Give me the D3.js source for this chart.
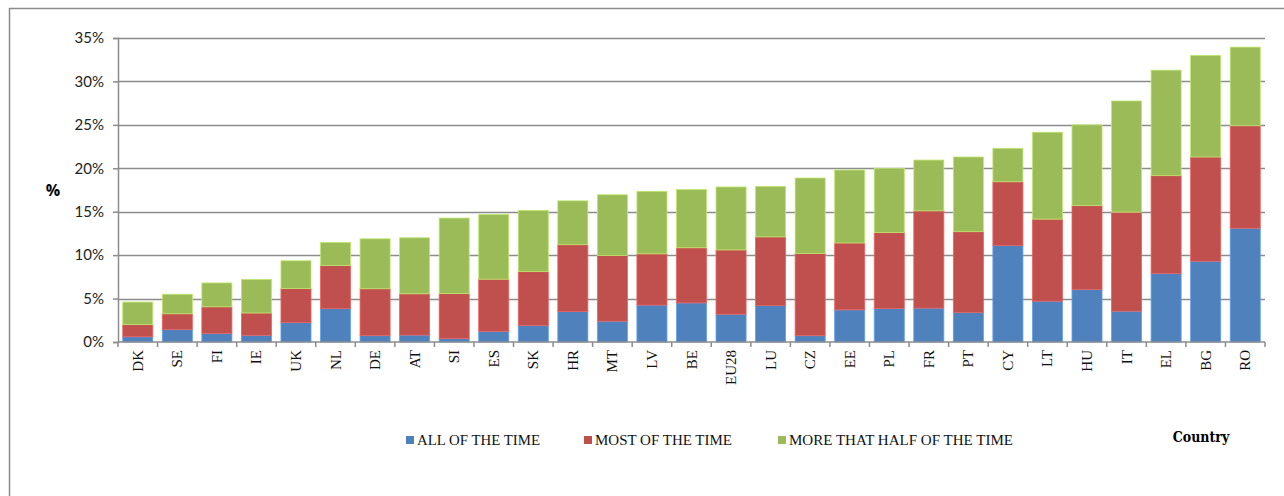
<!DOCTYPE html>
<html>
<head>
<meta charset="utf-8">
<script src="https://cdn.jsdelivr.net/npm/d3@7"></script>
<style>
  body { margin: 0; background: #fff; }
  svg { display: block; }
</style>
</head>
<body>
<div id="chart"></div>
<script>
// countries, sorted by total
const countries = ["DK","SE","FI","IE","UK","NL","DE","AT","SI","ES","SK","HR","MT","LV","BE","EU28","LU","CZ","EE","PL","FR","PT","CY","LT","HU","IT","EL","BG","RO"];

// percentages
const allTime  = [0.6, 1.45, 1.0, 0.77, 2.25, 3.85, 0.73, 0.8, 0.4, 1.23, 1.9, 3.5, 2.4, 4.25, 4.5, 3.2, 4.2, 0.73, 3.7, 3.85, 3.9, 3.4, 11.1, 4.7, 6.05, 3.55, 7.9, 9.3, 13.1];
const mostTime = [1.4, 1.8, 3.05, 2.57, 3.9, 4.95, 5.4, 4.75, 5.17, 6.0, 6.2, 7.7, 7.55, 5.9, 6.35, 7.4, 7.9, 9.45, 7.7, 8.75, 11.2, 9.3, 7.35, 9.45, 9.65, 11.4, 11.25, 12.0, 11.8];
const halfTime = [2.6, 2.25, 2.75, 3.87, 3.2, 2.65, 5.75, 6.45, 8.7, 7.45, 7.05, 5.05, 7.0, 7.2, 6.7, 7.25, 5.8, 8.7, 8.4, 7.4, 5.85, 8.6, 3.85, 10.0, 9.3, 12.8, 12.15, 11.7, 9.05];

const seriesNames = ["ALL OF THE TIME", "MOST OF THE TIME", "MORE THAT HALF OF THE TIME"];
const seriesColors = ["#4F81BD", "#C0504D", "#9BBB59"];
const yTicks = [0, 5, 10, 15, 20, 25, 30, 35];

const width = 1284, height = 496;
const margin = { top: 38, right: 19, bottom: 154, left: 118 };

const svg = d3.select("#chart").append("svg")
  .attr("width", width)
  .attr("height", height);

// outer frame (only top and left edges show)
svg.append("path")
  .attr("d", "M9.5,496 V8.5 H1284")
  .attr("fill", "none")
  .attr("stroke", "#8c8c8c")
  .attr("stroke-width", 1.5);

const rows = countries.map((c, i) => ({
  country: c,
  s0: allTime[i],
  s1: mostTime[i],
  s2: halfTime[i]
}));

const stack = d3.stack().keys(["s0", "s1", "s2"]);
const layers = stack(rows);

const x = d3.scaleBand()
  .domain(countries)
  .range([margin.left, width - margin.right])
  .paddingInner(0.24)
  .paddingOuter(0.12);

const y = d3.scaleLinear()
  .domain([0, 35])
  .range([height - margin.bottom, margin.top]);

// gridlines
svg.append("g")
  .selectAll("line")
  .data(yTicks.filter(d => d > 0))
  .enter().append("line")
  .attr("x1", margin.left)
  .attr("x2", width - margin.right)
  .attr("y1", d => Math.round(y(d)) + 0.5)
  .attr("y2", d => Math.round(y(d)) + 0.5)
  .attr("stroke", "#8c8c8c")
  .attr("stroke-width", 1.5);

// bars
const layer = svg.append("g")
  .selectAll("g")
  .data(layers)
  .enter().append("g")
  .attr("fill", (d, i) => seriesColors[i])
  .attr("stroke", (d, i) => d3.color(seriesColors[i]).brighter(0.6))
  .attr("stroke-width", 0.8);

layer.selectAll("rect")
  .data(d => d)
  .enter().append("rect")
  .attr("x", d => x(d.data.country))
  .attr("width", x.bandwidth())
  .attr("y", d => y(d[1]))
  .attr("height", d => y(d[0]) - y(d[1]));

// y axis
const yAxis = svg.append("g")
  .attr("transform", "translate(" + margin.left + ",0)")
  .call(d3.axisLeft(y).tickValues(yTicks).tickFormat(d => d + "%").tickSize(5).tickPadding(9));
yAxis.select(".domain").attr("stroke", "#8c8c8c").attr("stroke-width", 1.5);
yAxis.selectAll(".tick line").attr("stroke", "#8c8c8c").attr("stroke-width", 1.5);
yAxis.selectAll("text")
  .attr("font-family", "Lato, 'Open Sans', sans-serif")
  .attr("font-size", 15)
  .attr("fill", "#222");

// x axis: ticks sit between categories
const xBase = y(0);
const tickXs = d3.range(countries.length + 1).map(i => margin.left + i * ((width - margin.right - margin.left) / countries.length));
svg.append("line")
  .attr("x1", margin.left).attr("x2", width - margin.right)
  .attr("y1", xBase).attr("y2", xBase)
  .attr("stroke", "#8c8c8c").attr("stroke-width", 1.5);
svg.append("g")
  .selectAll("line")
  .data(tickXs)
  .enter().append("line")
  .attr("x1", d => d).attr("x2", d => d)
  .attr("y1", xBase).attr("y2", xBase + 5)
  .attr("stroke", "#8c8c8c").attr("stroke-width", 1.5);

svg.append("g")
  .selectAll("text")
  .data(countries)
  .enter().append("text")
  .attr("transform", d => "translate(" + (x(d) + x.bandwidth() / 2 + 5) + "," + (xBase + 8) + ") rotate(-90)")
  .attr("text-anchor", "end")
  .attr("font-family", "'Liberation Serif', serif")
  .attr("font-size", 15)
  .attr("fill", "#111")
  .text(d => d);

// axis titles
svg.append("text")
  .attr("x", 53).attr("y", 196)
  .attr("text-anchor", "middle")
  .attr("font-family", "'Open Sans', sans-serif")
  .attr("font-weight", "bold")
  .attr("font-size", 16)
  .text("%");

svg.append("text")
  .attr("x", 1201).attr("y", 442)
  .attr("text-anchor", "middle")
  .attr("font-family", "'DejaVu Serif Condensed', 'DejaVu Serif', serif")
  .attr("font-weight", "bold")
  .attr("font-size", 14)
  .text("Country");

// legend
const legendX = [406, 584, 778];
const legend = svg.append("g")
  .selectAll("g")
  .data(seriesNames)
  .enter().append("g")
  .attr("transform", (d, i) => "translate(" + legendX[i] + ",440)");
legend.append("rect")
  .attr("x", 0).attr("y", -4)
  .attr("width", 8).attr("height", 8)
  .attr("fill", (d, i) => seriesColors[i]);
legend.append("text")
  .attr("x", 11).attr("y", 5)
  .attr("font-family", "'Liberation Serif', serif")
  .attr("font-size", 15)
  .attr("fill", "#111")
  .attr("textLength", (d, i) => [123, 137, 224][i])
  .attr("lengthAdjust", "spacingAndGlyphs")
  .text(d => d);
</script>
</body>
</html>
